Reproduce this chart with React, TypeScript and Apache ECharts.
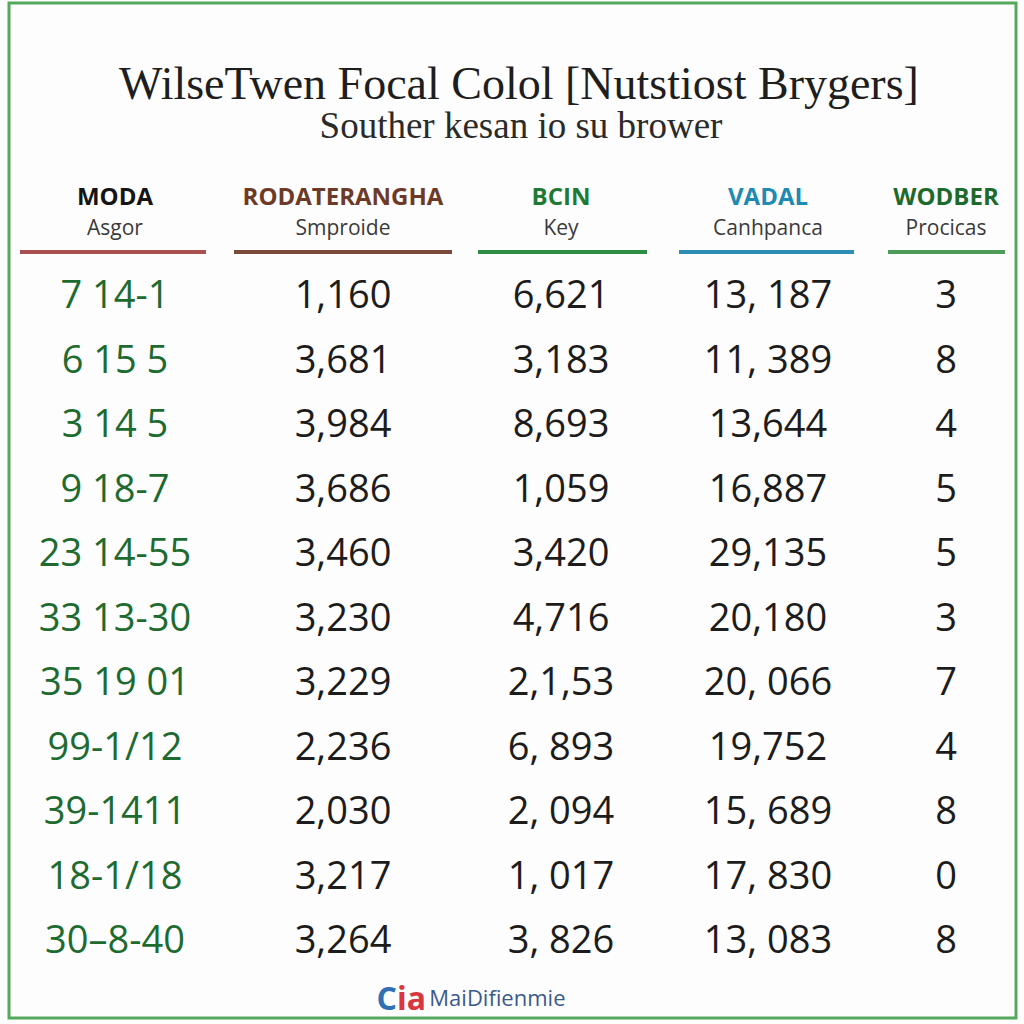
import React, { useEffect, useRef } from "react";
import * as echarts from "echarts";

// ---- data ----
const TITLE = "WilseTwen Focal Colol [Nutstiost Brygers]";
const SUBTITLE = "Souther kesan io su brower";
const HEADERS = ["MODA", "RODATERANGHA", "BCIN", "VADAL", "WODBER"];
const SUBHEADERS = ["Asgor", "Smproide", "Key", "Canhpanca", "Procicas"];
const MODA = ["7 14-1", "6 15 5", "3 14 5", "9 18-7", "23 14-55", "33 13-30", "35 19 01", "99-1/12", "39-1411", "18-1/18", "30–8-40"];
const RODATERANGHA = ["1,160", "3,681", "3,984", "3,686", "3,460", "3,230", "3,229", "2,236", "2,030", "3,217", "3,264"];
const BCIN = ["6,621", "3,183", "8,693", "1,059", "3,420", "4,716", "2,1,53", "6, 893", "2, 094", "1, 017", "3, 826"];
const VADAL = ["13, 187", "11, 389", "13,644", "16,887", "29,135", "20,180", "20, 066", "19,752", "15, 689", "17, 830", "13, 083"];
const WODBER = ["3", "8", "4", "5", "5", "3", "7", "4", "8", "0", "8"];
const FOOTER_LOGO = "MaiDifienmie";

// ---- layout / style ----
const COL_X = [115, 343, 561, 768, 946];
const HEADER_COLORS = ["#151515", "#6e3a28", "#1f7a34", "#1f8ab2", "#1d6a2c"];
const LINE_COLORS = ["#a85050", "#7a4a3c", "#2f8c47", "#2d8db3", "#4f9b59"];
const LINE_SPANS: [number, number][] = [[20, 206], [234, 452], [478, 647], [679, 854], [888, 1005]];
const FONT_SANS = "'Open Sans', 'Noto Sans', sans-serif";
const FONT_SERIF = "'Liberation Serif', 'DejaVu Serif', serif";

export default function App() {
  const ref = useRef<HTMLDivElement>(null);
  useEffect(() => {
    document.body.style.margin = "0";
    if (!ref.current) return;
    const chart = echarts.init(ref.current, undefined, { renderer: "svg" });
    const columns = [MODA, RODATERANGHA, BCIN, VADAL, WODBER];
    const cells: { text: string; col: number }[] = [];
    const data: number[][] = [];
    columns.forEach((col, c) => {
      col.forEach((t, r) => {
        cells.push({ text: t, col: c });
        data.push([COL_X[c], r]);
      });
    });

    const graphics: any[] = [
      {
        type: "rect",
        shape: { x: 9, y: 3, width: 1007, height: 1015 },
        style: { fill: "none", stroke: "#55a85c", lineWidth: 3 },
        z: 10,
      },
      {
        type: "text",
        x: 519,
        y: 83,
        style: { text: TITLE, fill: "#1e1e1e", font: `46px ${FONT_SERIF}`, align: "center", verticalAlign: "middle" },
      },
      {
        type: "text",
        x: 521,
        y: 125,
        style: { text: SUBTITLE, fill: "#2a2a2a", font: `37px ${FONT_SERIF}`, align: "center", verticalAlign: "middle" },
      },
      {
        type: "text",
        x: 471,
        y: 997,
        style: {
          text: "{a|C}{b|ia} {c|" + FOOTER_LOGO + "}",
          align: "center",
          verticalAlign: "middle",
          rich: {
            a: { fontSize: 32, fontWeight: "bold", fill: "#2f6fb3", fontFamily: FONT_SANS },
            b: { fontSize: 32, fontWeight: "bold", fill: "#d9363e", fontFamily: FONT_SANS },
            c: { fontSize: 22, fill: "#3a5a8c", fontFamily: FONT_SANS },
          },
        },
      },
    ];
    HEADERS.forEach((h, i) => {
      graphics.push({
        type: "text",
        x: COL_X[i],
        y: 195,
        style: { text: h, fill: HEADER_COLORS[i], font: `bold 24px ${FONT_SANS}`, align: "center", verticalAlign: "middle" },
      });
      graphics.push({
        type: "text",
        x: COL_X[i],
        y: 227,
        style: { text: SUBHEADERS[i], fill: "#3a3a3a", font: `21px ${FONT_SANS}`, align: "center", verticalAlign: "middle" },
      });
      graphics.push({
        type: "line",
        shape: { x1: LINE_SPANS[i][0], y1: 252, x2: LINE_SPANS[i][1], y2: 252 },
        style: { stroke: LINE_COLORS[i], lineWidth: 4 },
      });
    });

    chart.setOption({
      animation: false,
      backgroundColor: "#fdfdfd",
      grid: { left: 0, right: 0, top: 261, height: 709.5, containLabel: false },
      xAxis: { type: "value", min: 0, max: 1024, show: false },
      yAxis: { type: "category", data: MODA.map((_, i) => String(i)), inverse: true, show: false },
      graphic: graphics,
      series: [
        {
          type: "custom",
          data,
          renderItem: (params: any, api: any) => {
            const cell = cells[params.dataIndex];
            const p = api.coord([api.value(0), api.value(1)]);
            return {
              type: "text",
              x: p[0],
              y: p[1],
              style: {
                text: cell.text,
                fill: cell.col === 0 ? "#1d6b30" : "#1c1c1c",
                fontSize: 38,
                fontFamily: FONT_SANS,
                align: "center",
                verticalAlign: "middle",
              },
            };
          },
        },
      ],
    });
    return () => chart.dispose();
  }, []);
  return <div ref={ref} style={{ width: 1024, height: 1024 }} />;
}
